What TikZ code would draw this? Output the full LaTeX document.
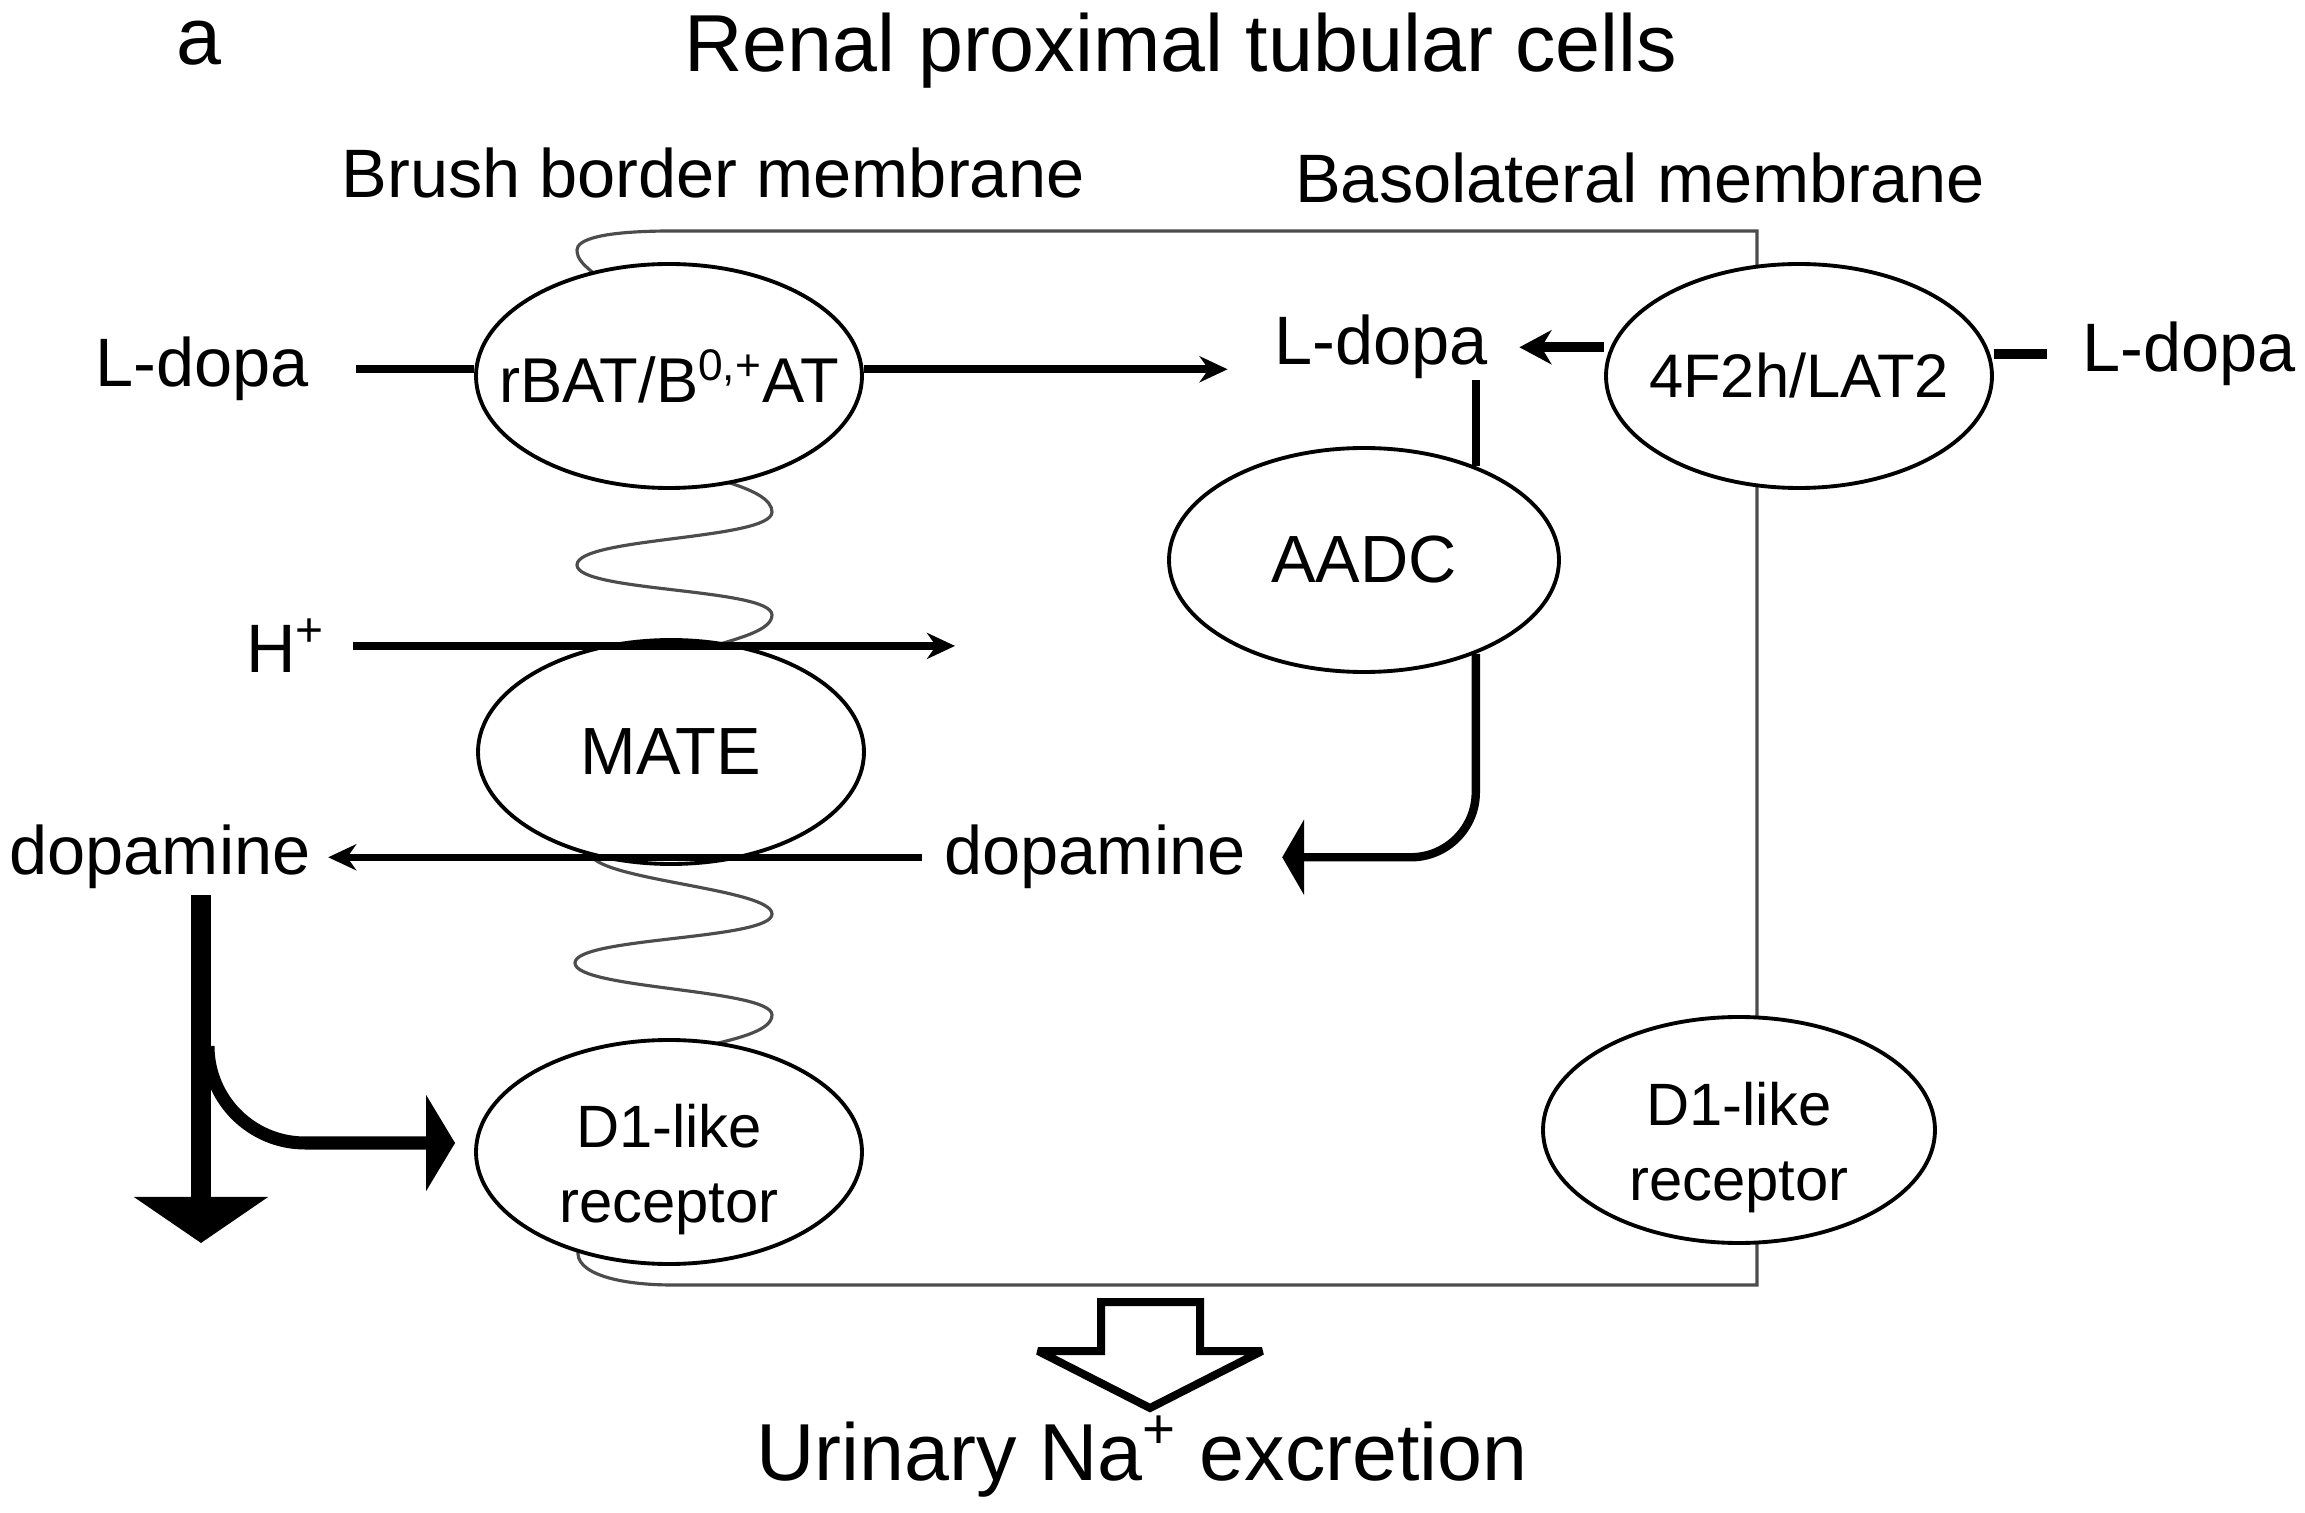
\documentclass[tikz,border=0pt]{standalone}
\usepackage{fontspec}
\setmainfont{Liberation Sans}
\usepackage{tikz}
\usetikzlibrary{shapes.geometric}
\usetikzlibrary{arrows.meta}
\usetikzlibrary{positioning}

\newcommand{\pumptext}[1]{\makebox[0pt]{#1}}
\newcommand{\twolines}[2]{\smash{\raisebox{-3.3mm}{\begin{tabular}{@{}c@{}}#1\\#2\end{tabular}}}}

\begin{document}
\begin{tikzpicture}[
  lbl/.style={inner sep=0pt, anchor=base, font=\fontsize{19.5}{23}\selectfont},
  big/.style={inner sep=0pt, anchor=base, font=\fontsize{23}{27}\selectfont},
  pump/.style={draw, ellipse, fill=white, line width=1.1pt, inner sep=0pt,
    minimum width=3.86cm, minimum height=2.24cm, font=\fontsize{18}{21}\selectfont},
  recep/.style={pump, font=\fontsize{17}{21.5}\selectfont},
  memb/.style={draw=black!70, line width=0.9pt},
  flux/.style={line width=2.1pt},
  tip/.style={-{Stealth[length=2.8mm,width=2.6mm,inset=0.9mm]}},
]
\useasboundingbox (0,0) rectangle (23.05,-15.13);

\node[big] (panel) at (1.99,-0.65) {a};
\node[big] (title) at (11.81,-0.72) {Renal proximal tubular cells};
\node[lbl] (brush) at (7.13,-1.98) {Brush border membrane};
\node[lbl] (baso) at (16.40,-2.03) {Basolateral membrane};

% membrane: coiled brush border and the basolateral box
\draw[memb] (6.72,-2.31) .. controls (6.0,-2.31) and (5.77,-2.40) .. (5.77,-2.50)
  .. controls (5.77,-2.60) and (5.85,-2.66) .. (5.97,-2.76);
\draw[memb] (7.20,-4.80) .. controls (7.55,-4.90) and (7.72,-5.00) .. (7.72,-5.12)
  .. controls (7.72,-5.40) and (5.77,-5.37) .. (5.77,-5.65)
  .. controls (5.77,-5.92) and (7.72,-5.88) .. (7.72,-6.15)
  .. controls (7.72,-6.30) and (7.40,-6.38) .. (7.10,-6.47);
\draw[memb] (5.90,-8.52) .. controls (5.90,-8.80) and (7.72,-8.88) .. (7.72,-9.14)
  .. controls (7.72,-9.40) and (5.75,-9.37) .. (5.75,-9.63)
  .. controls (5.75,-9.89) and (7.72,-9.89) .. (7.72,-10.15)
  .. controls (7.72,-10.30) and (7.40,-10.38) .. (7.10,-10.45);
\draw[memb] (5.80,-12.45) .. controls (5.68,-12.70) and (6.10,-12.85) .. (6.73,-12.85)
  -- (17.57,-12.85) -- (17.57,-2.31) -- (6.72,-2.31);

% transporters, enzyme, receptors
\node[pump] (rbat) at (6.69,-3.76) {\pumptext{rBAT/B\textsuperscript{0,+}AT}};
\node[pump, font=\fontsize{19}{22}\selectfont] (mate) at (6.71,-7.52) {\pumptext{MATE}};
\node[recep] (d1l) at (6.69,-11.52) {\pumptext{\twolines{D1-like}{receptor}}};
\node[pump, minimum width=3.90cm, font=\fontsize{19}{22}\selectfont] (aadc) at (13.64,-5.60) {\pumptext{AADC}};
\node[pump, font=\fontsize{17.5}{20}\selectfont] (lat2) at (17.99,-3.76) {\pumptext{\raisebox{-0.5mm}{4F2h/LAT2}}};
\node[recep, minimum width=3.92cm, minimum height=2.26cm] (d1r) at (17.39,-11.30) {\pumptext{\twolines{D1-like}{receptor}}};

\node[lbl] (ldopaL) at (2.02,-3.87) {L-dopa};
\node[lbl] (ldopaM) at (13.81,-3.65) {L-dopa};
\node[lbl] (ldopaR) at (21.89,-3.72) {L-dopa};
\node[lbl] (hplus) at (2.86,-6.73) {H\textsuperscript{+}};
\node[lbl] (dopL) at (1.60,-8.75) {dopamine};
\node[lbl] (dopM) at (10.95,-8.75) {dopamine};
\node[big] (urine) at (11.42,-14.80) {Urinary Na\textsuperscript{+} excretion};

% L-dopa uptake
\draw[flux, line width=2.4pt] ([xshift=4.7mm]ldopaL.east) -- (ldopaL.east -| rbat.west);
\draw[flux, line width=2.4pt, tip] (ldopaL.east -| rbat.east) -- ([xshift=-4.6mm]ldopaL.east -| ldopaM.west);
\draw[flux, line width=2.8pt, -{Stealth[length=3.2mm,width=3.4mm,inset=1mm]}] (ldopaM.east -| lat2.west) -- ([xshift=3.1mm]ldopaM.east);
\draw[flux, line width=2.8pt] ([xshift=-3.5mm]ldopaR.west) -- (ldopaR.west -| lat2.east);

% decarboxylation
\draw[line width=2.2pt] (aadc.40 |- ldopaM.south) -- (aadc.40);
\draw[line width=2.4pt, rounded corners=0.65cm, -{Triangle[length=2.2mm,width=7.5mm]}] (aadc.-40) |- ([xshift=3.6mm]dopM.east);

% MATE exchange
\coordinate (hout) at (9.55,-6.46);
\draw[flux, tip] ([xshift=2.7mm]hplus.east) -- (hplus.east -| hout);
\draw[flux, tip] ([xshift=-2.2mm]dopM.west) -- ([xshift=1.7mm]dopL.east);

% dopamine to receptor
\coordinate (dtop) at (2.01,-8.95);
\coordinate (dend) at (2.01,-12.43);
\coordinate (fork) at (2.08,-10.46);
\draw[line width=5.7pt, -{Triangle[length=4.6mm,width=13.2mm]}] (dtop) -- (dend);
\draw[line width=3.7pt, -{Triangle[length=2.9mm,width=9.5mm]}] (fork) arc[start angle=180,end angle=270,radius=0.97]
  -- ([shift={(-1.9mm,0.9mm)}]d1l.west);

% natriuresis
\draw[line width=0.08cm, miter limit=4] (11.01,-13.02) -- (12.00,-13.02) -- (12.00,-13.51) -- (12.62,-13.51)
  -- (11.50,-14.08) -- (10.38,-13.51) -- (11.01,-13.51) -- cycle;
\end{tikzpicture}
\end{document}
